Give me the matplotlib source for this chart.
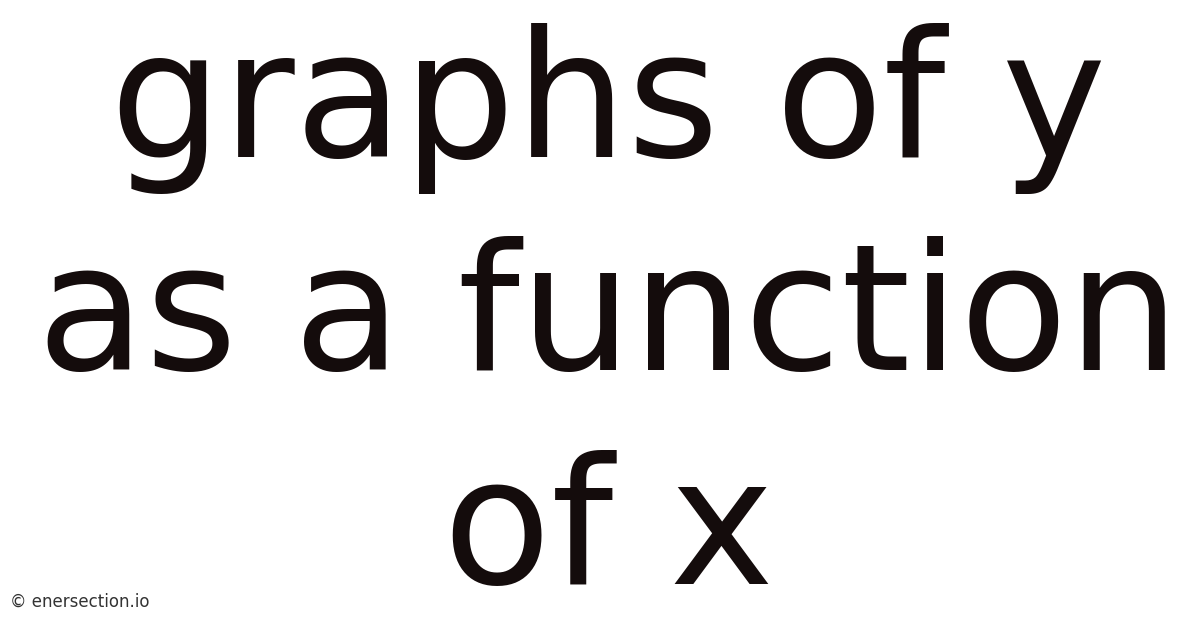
import matplotlib
matplotlib.use("Agg")
import matplotlib.pyplot as plt

title_lines = ["graphs of y", "as a function", "of x"]
line_baselines_px = [157, 370, 584]
watermark = "© enersection.io"

W, H = 1200, 628
fig = plt.figure(figsize=(W / 100, H / 100), dpi=100)
fig.patch.set_facecolor("white")

for txt, yb in zip(title_lines, line_baselines_px):
    fig.text(608.5 / W, 1 - yb / H, txt, ha="center", va="baseline",
             fontsize=127.3, color="#140c0c", family="DejaVu Sans")

fig.text(10 / W, 1 - 607 / H, watermark, ha="left", va="baseline",
         fontsize=12, color="#333333", family="DejaVu Sans")

fig.savefig("out.png", dpi=100, facecolor="white")
